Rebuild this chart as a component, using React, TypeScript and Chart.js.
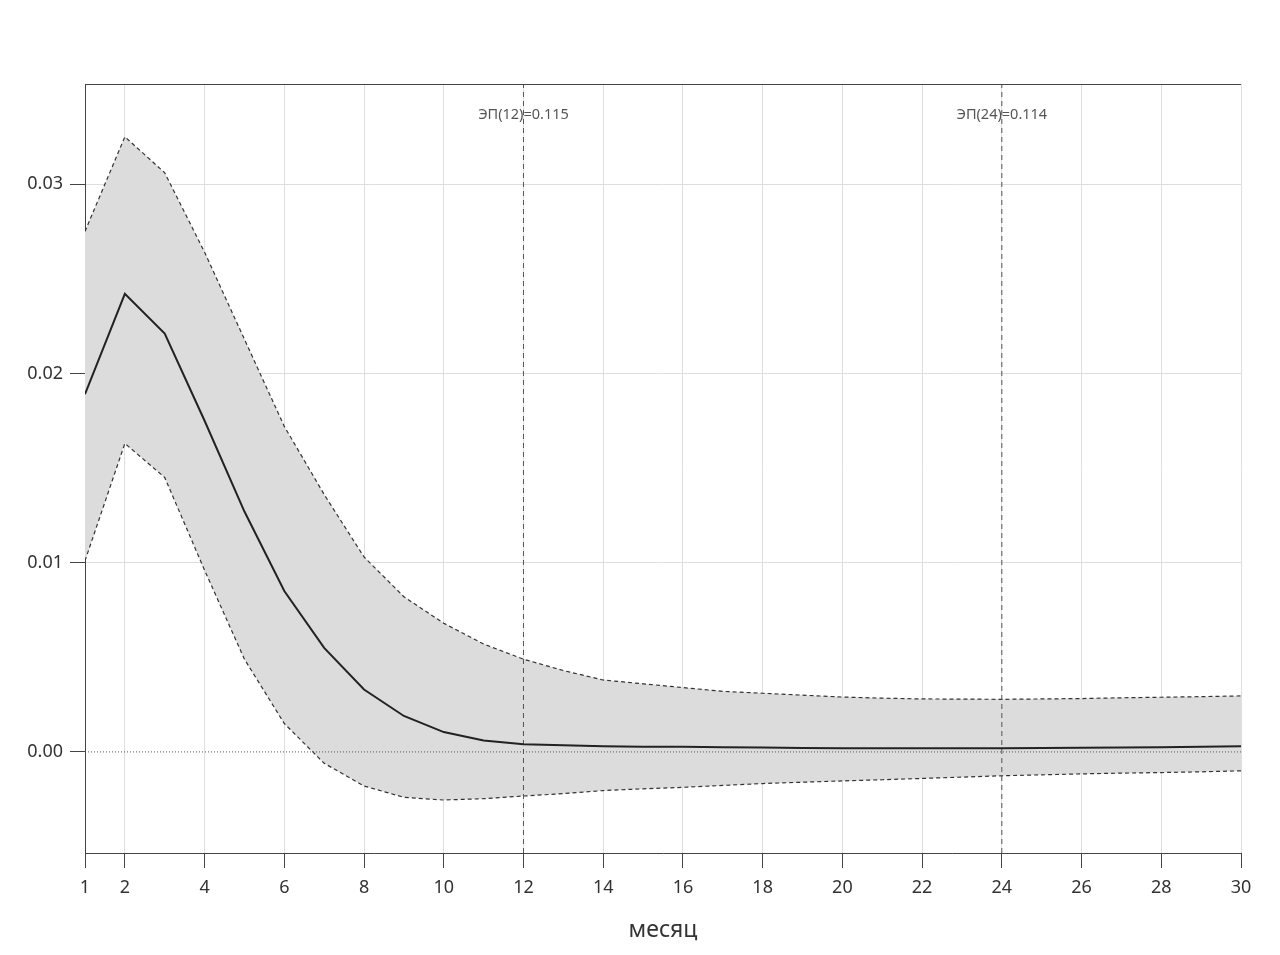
import { useEffect, useRef } from "react";
import { Chart, registerables } from "chart.js";

Chart.register(...registerables);

// months on the horizontal axis
const months = [1, 2, 3, 4, 5, 6, 7, 8, 9, 10, 11, 12, 13, 14, 15, 16, 17, 18, 19, 20, 21, 22, 23, 24, 25, 26, 27, 28, 29, 30];

// impulse response and its confidence band
const response = [
  0.0189, 0.0242, 0.0221, 0.0175, 0.0127, 0.0085, 0.0055, 0.0033, 0.0019, 0.00105,
  0.0006, 0.0004, 0.00035, 0.0003, 0.00028, 0.00027, 0.00025, 0.00023, 0.00021, 0.0002,
  0.0002, 0.0002, 0.0002, 0.0002, 0.00021, 0.00022, 0.00023, 0.00025, 0.00027, 0.0003,
];
const upperBand = [
  0.0275, 0.0325, 0.0306, 0.0264, 0.0218, 0.0172, 0.0136, 0.0103, 0.0082, 0.0068,
  0.0057, 0.0049, 0.0043, 0.0038, 0.0036, 0.0034, 0.0032, 0.0031, 0.003, 0.0029,
  0.00284, 0.0028, 0.00279, 0.00278, 0.0028, 0.00282, 0.00286, 0.00289, 0.00292, 0.00296,
];
const lowerBand = [
  0.0101, 0.0163, 0.0145, 0.0096, 0.0049, 0.0015, -0.0006, -0.0018, -0.0024, -0.00254,
  -0.00247, -0.00233, -0.0022, -0.00204, -0.00195, -0.00187, -0.00177, -0.00167, -0.0016, -0.00153,
  -0.00147, -0.0014, -0.00133, -0.00126, -0.00121, -0.00116, -0.00112, -0.00109, -0.00105, -0.001,
];

// vertical markers
const markerMonths = [12, 24];
const markerLabels = ["ЭП(12)=0.115", "ЭП(24)=0.114"];

const xTicks = [1, 2, 4, 6, 8, 10, 12, 14, 16, 18, 20, 22, 24, 26, 28, 30];
const yTicks = [0, 0.01, 0.02, 0.03];
const yMin = -0.00534;
const yMax = 0.03529;

const FONT = "'Noto Sans', sans-serif";

const toPoints = (vals: number[]) => months.map((m, i) => ({ x: m, y: vals[i] }));

const markerPlugin = {
  id: "markers",
  afterDatasetsDraw(chart: Chart) {
    const { ctx, chartArea } = chart;
    const xs = chart.scales.x;
    ctx.save();
    // top frame line
    ctx.strokeStyle = "#444";
    ctx.lineWidth = 1;
    ctx.beginPath();
    ctx.moveTo(chartArea.left, chartArea.top + 0.5);
    ctx.lineTo(chartArea.right, chartArea.top + 0.5);
    ctx.stroke();
    // marker labels
    ctx.fillStyle = "#555";
    ctx.font = `14.5px ${FONT}`;
    ctx.textAlign = "center";
    ctx.textBaseline = "middle";
    markerMonths.forEach((m, i) => {
      ctx.fillText(markerLabels[i], xs.getPixelForValue(m), chartArea.top + 31);
    });
    ctx.restore();
  },
};

function createChart(canvas: HTMLCanvasElement): Chart {
  const markerSets = markerMonths.map((m) => ({
    data: [
      { x: m, y: yMin },
      { x: m, y: yMax },
    ],
    borderColor: "#555",
    borderWidth: 1,
    borderDash: [5, 4],
    pointRadius: 0,
    fill: false,
  }));

  return new Chart(canvas, {
    type: "line",
    data: {
      datasets: [
        {
          data: toPoints(response),
          borderColor: "#222",
          borderWidth: 2,
          pointRadius: 0,
          fill: false,
        },
        {
          data: [
            { x: months[0], y: 0 },
            { x: months[months.length - 1], y: 0 },
          ],
          borderColor: "#555",
          borderWidth: 1,
          borderDash: [1, 2],
          pointRadius: 0,
          fill: false,
        },
        ...markerSets,
        {
          data: toPoints(upperBand),
          borderColor: "#333",
          borderWidth: 1.2,
          borderDash: [4, 3],
          pointRadius: 0,
          backgroundColor: "#dcdcdc",
          fill: "+1",
        },
        {
          data: toPoints(lowerBand),
          borderColor: "#333",
          borderWidth: 1.2,
          borderDash: [4, 3],
          pointRadius: 0,
          fill: false,
        },
      ],
    },
    options: {
      animation: false,
      responsive: true,
      maintainAspectRatio: false,
      layout: { padding: { top: 84, right: 39, left: 0, bottom: 0 } },
      plugins: {
        legend: { display: false },
        tooltip: { enabled: false },
        filler: { drawTime: "beforeDatasetsDraw" },
      },
      scales: {
        x: {
          type: "linear",
          min: 1,
          max: 30,
          afterBuildTicks: (axis: any) => {
            axis.ticks = xTicks.map((v) => ({ value: v }));
          },
          afterFit: (axis: any) => {
            axis.height = 102;
          },
          grid: { color: "#dedede", tickColor: "#444", tickLength: 15 },
          border: { color: "#444" },
          ticks: {
            color: "#333",
            font: { family: FONT, size: 18 },
            padding: 9,
            autoSkip: false,
            maxRotation: 0,
            callback: (v: any) => String(v),
          },
          title: {
            display: true,
            text: "месяц",
            color: "#333",
            font: { family: FONT, size: 23 },
            padding: { top: 0, bottom: 11 },
          },
        },
        y: {
          type: "linear",
          min: yMin,
          max: yMax,
          afterBuildTicks: (axis: any) => {
            axis.ticks = yTicks.map((v) => ({ value: v }));
          },
          afterFit: (axis: any) => {
            axis.width = 85;
          },
          grid: {
            color: (c: any) => (c.tick && c.tick.value === 0 ? "rgba(0,0,0,0)" : "#dedede"),
            tickColor: "#444",
            tickLength: 15,
          },
          border: { color: "#444" },
          ticks: {
            color: "#333",
            font: { family: FONT, size: 18 },
            padding: 7,
            callback: (v: any) => Number(v).toFixed(2),
          },
        },
      },
    },
    plugins: [markerPlugin],
  } as any);
}

export default function App() {
  const canvasRef = useRef<HTMLCanvasElement>(null);

  useEffect(() => {
    document.body.style.margin = "0";
    const chart = createChart(canvasRef.current!);
    return () => {
      chart.destroy();
    };
  }, []);

  return (
    <div style={{ width: 1280, height: 955, position: "relative", background: "#fff" }}>
      <canvas ref={canvasRef}></canvas>
    </div>
  );
}
